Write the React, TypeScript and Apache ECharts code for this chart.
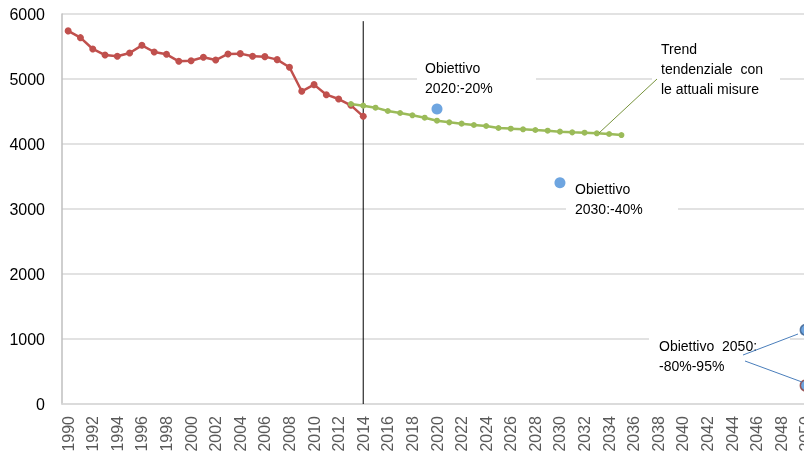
import React, { useEffect, useRef } from "react";
import * as echarts from "echarts";

const years: string[] = [];
for (let y = 1990; y <= 2050; y++) years.push(String(y));

const historicYears = [1990, 1991, 1992, 1993, 1994, 1995, 1996, 1997, 1998, 1999, 2000, 2001, 2002, 2003, 2004, 2005, 2006, 2007, 2008, 2009, 2010, 2011, 2012, 2013, 2014];
const historicValues = [5740, 5636, 5462, 5369, 5349, 5400, 5518, 5415, 5380, 5272, 5282, 5334, 5292, 5385, 5390, 5349, 5344, 5298, 5180, 4811, 4913, 4759, 4692, 4595, 4426];

const trendYears = [2013, 2014, 2015, 2016, 2017, 2018, 2019, 2020, 2021, 2022, 2023, 2024, 2025, 2026, 2027, 2028, 2029, 2030, 2031, 2032, 2033, 2034, 2035];
const trendValues = [4615, 4590, 4559, 4508, 4477, 4441, 4405, 4359, 4333, 4313, 4292, 4277, 4246, 4236, 4226, 4215, 4205, 4190, 4179, 4174, 4164, 4154, 4138];

const targetYears = ["2020", "2030", "2050", "2050"];
const targetValues = [4540, 3405, 1140, 285];

const yTicks = [0, 1000, 2000, 3000, 4000, 5000, 6000];
const dividerYear = "2014";

function toSeries(ys: number[], vs: number[]) {
  return years.map((y) => {
    const i = ys.indexOf(Number(y));
    return i >= 0 ? vs[i] : null;
  });
}

const FONT = "Liberation Sans";

function box(x: number, y: number, w: number, h: number) {
  return { type: "rect", shape: { x, y, width: w, height: h }, style: { fill: "#ffffff" }, z: 10, silent: true };
}
function label(x: number, y: number, text: string) {
  return {
    type: "text",
    x,
    y,
    z: 11,
    silent: true,
    style: { text, fill: "#000000", font: `14px "${FONT}"`, lineHeight: 20, textVerticalAlign: "top" },
  };
}
function leader(x1: number, y1: number, x2: number, y2: number, color: string) {
  return { type: "line", shape: { x1, y1, x2, y2 }, style: { stroke: color, lineWidth: 1 }, z: 12, silent: true };
}

export default function App() {
  const ref = useRef<HTMLDivElement>(null);
  useEffect(() => {
    if (!ref.current) return;
    const chart = echarts.init(ref.current, undefined, { renderer: "svg" });
    const scatterData = targetYears.map((y, i) => {
      const item: any = { value: [y, targetValues[i]] };
      if (i === 2) item.itemStyle = { color: "#4a8fd8", borderColor: "#385d8a", borderWidth: 1.5 };
      if (i === 3) item.itemStyle = { color: "#4a8fd8", borderColor: "#8c3836", borderWidth: 1.5 };
      return item;
    });
    chart.setOption({
      animation: false,
      textStyle: { fontFamily: FONT },
      grid: { left: 62, top: 14, width: 750, height: 390, containLabel: false },
      xAxis: {
        type: "category",
        data: years,
        boundaryGap: true,
        axisLine: { show: true, lineStyle: { color: "#d9d9d9", width: 1.5 } },
        axisTick: { show: false },
        axisLabel: { rotate: 90, interval: 1, fontSize: 16, color: "#595959", margin: 12, fontFamily: FONT },
        splitLine: { show: false },
      },
      yAxis: {
        type: "value",
        min: yTicks[0],
        max: yTicks[yTicks.length - 1],
        interval: 1000,
        axisLine: { show: true, lineStyle: { color: "#bfbfbf", width: 1.5 } },
        axisTick: { show: false },
        axisLabel: { fontSize: 16, color: "#000000", margin: 17, fontFamily: FONT, formatter: (v: number) => String(v) },
        splitLine: { show: true, lineStyle: { color: "#d9d9d9", width: 1.5 } },
      },
      series: [
        {
          type: "line",
          data: toSeries(historicYears, historicValues),
          symbol: "circle",
          symbolSize: 7,
          lineStyle: { color: "#c0504d", width: 2.5 },
          itemStyle: { color: "#c0504d" },
          z: 3,
        },
        {
          type: "line",
          data: toSeries(trendYears, trendValues),
          symbol: "circle",
          symbolSize: 6,
          lineStyle: { color: "#9bbb59", width: 2.5 },
          itemStyle: { color: "#9bbb59" },
          z: 4,
        },
        {
          type: "line",
          data: [
            [dividerYear, 5890],
            [dividerYear, 0],
          ],
          symbol: "none",
          lineStyle: { color: "#000000", width: 1 },
          z: 2,
          silent: true,
        },
        {
          type: "scatter",
          data: scatterData,
          symbol: "circle",
          symbolSize: 11,
          itemStyle: { color: "#4a8fd8" },
          z: 5,
        },
      ],
      graphic: [
        box(417, 56, 119, 42),
        label(425, 58, "Obiettivo\n2020:-20%"),
        box(652, 38, 128, 61),
        label(661, 39, "Trend\ntendenziale  con\nle attuali misure"),
        leader(657, 79, 599, 133, "#77933c"),
        box(566, 177, 112, 44),
        label(575, 179, "Obiettivo\n2030:-40%"),
        box(649, 334, 141, 44),
        label(659, 336, "Obiettivo  2050:\n-80%-95%"),
        leader(743, 355, 798, 334, "#4a7ebb"),
        leader(745, 361, 802, 382, "#4a7ebb"),
      ],
    });
    return () => chart.dispose();
  }, []);
  return <div ref={ref} style={{ position: "fixed", left: 0, top: 0, width: 830, height: 457 }} />;
}
